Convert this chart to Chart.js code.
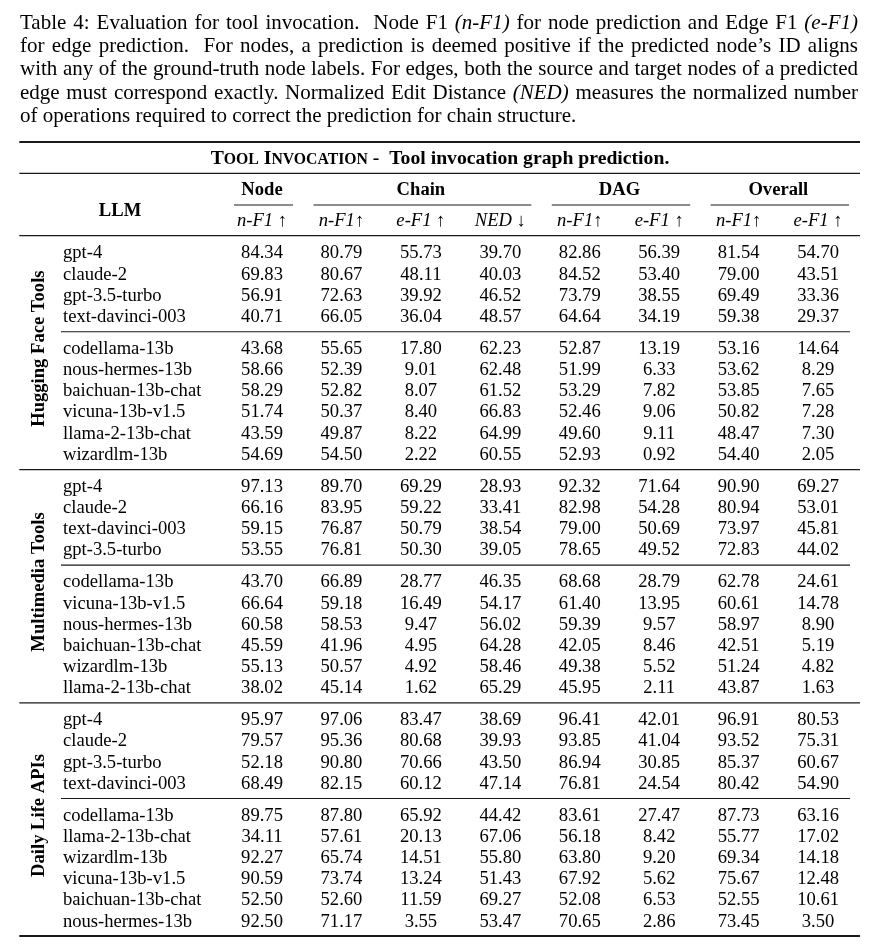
<!DOCTYPE html>
<html><head><meta charset="utf-8">
<script src="https://cdn.jsdelivr.net/npm/chart.js@4/dist/chart.umd.min.js"></script>
<style>
html,body{margin:0;padding:0;background:#fff;}
body{width:875px;height:947px;position:relative;overflow:hidden;}
#wrap{position:absolute;left:0;top:0;width:875px;height:947px;}
#cap{position:absolute;left:20px;top:10.5px;width:838px;font-family:"Liberation Serif","Times New Roman",serif;font-size:21px;line-height:23.4px;color:#000;z-index:2;}
#cap div{text-align:justify;text-align-last:justify;white-space:nowrap;word-spacing:-1.5px;}
#cap div.last{text-align:left;text-align-last:left;word-spacing:0;}
#cap i{font-style:italic;}
</style></head>
<body>
<div id="wrap"><canvas id="c"></canvas></div>
<div id="cap">
<div>Table 4: Evaluation for tool invocation. &nbsp;Node F1 <i>(n-F1)</i> for node prediction and Edge F1 <i>(e-F1)</i></div>
<div>for edge prediction. &nbsp;For nodes, a prediction is deemed positive if the predicted node’s ID aligns</div>
<div>with any of the ground-truth node labels. For edges, both the source and target nodes of a predicted</div>
<div>edge must correspond exactly. Normalized Edit Distance <i>(NED)</i> measures the normalized number</div>
<div class="last">of operations required to correct the prediction for chain structure.</div>
</div>
<script>
// ---------- DATA ----------
const groupNames = ["Hugging Face Tools", "Multimedia Tools", "Daily Life APIs"];
const columnGroups = ["Node", "Chain", "DAG", "Overall"];
const columnLabels = ["n-F1 ↑", "n-F1↑", "e-F1 ↑", "NED ↓", "n-F1↑", "e-F1 ↑", "n-F1↑", "e-F1 ↑"];

const hfModels = ["gpt-4","claude-2","gpt-3.5-turbo","text-davinci-003","codellama-13b","nous-hermes-13b","baichuan-13b-chat","vicuna-13b-v1.5","llama-2-13b-chat","wizardlm-13b"];
const hfNodeN   = [84.34,69.83,56.91,40.71,43.68,58.66,58.29,51.74,43.59,54.69];
const hfChainN  = [80.79,80.67,72.63,66.05,55.65,52.39,52.82,50.37,49.87,54.50];
const hfChainE  = [55.73,48.11,39.92,36.04,17.80,9.01,8.07,8.40,8.22,2.22];
const hfChainNED= [39.70,40.03,46.52,48.57,62.23,62.48,61.52,66.83,64.99,60.55];
const hfDagN    = [82.86,84.52,73.79,64.64,52.87,51.99,53.29,52.46,49.60,52.93];
const hfDagE    = [56.39,53.40,38.55,34.19,13.19,6.33,7.82,9.06,9.11,0.92];
const hfAllN    = [81.54,79.00,69.49,59.38,53.16,53.62,53.85,50.82,48.47,54.40];
const hfAllE    = [54.70,43.51,33.36,29.37,14.64,8.29,7.65,7.28,7.30,2.05];

const mmModels = ["gpt-4","claude-2","text-davinci-003","gpt-3.5-turbo","codellama-13b","vicuna-13b-v1.5","nous-hermes-13b","baichuan-13b-chat","wizardlm-13b","llama-2-13b-chat"];
const mmNodeN   = [97.13,66.16,59.15,53.55,43.70,66.64,60.58,45.59,55.13,38.02];
const mmChainN  = [89.70,83.95,76.87,76.81,66.89,59.18,58.53,41.96,50.57,45.14];
const mmChainE  = [69.29,59.22,50.79,50.30,28.77,16.49,9.47,4.95,4.92,1.62];
const mmChainNED= [28.93,33.41,38.54,39.05,46.35,54.17,56.02,64.28,58.46,65.29];
const mmDagN    = [92.32,82.98,79.00,78.65,68.68,61.40,59.39,42.05,49.38,45.95];
const mmDagE    = [71.64,54.28,50.69,49.52,28.79,13.95,9.57,8.46,5.52,2.11];
const mmAllN    = [90.90,80.94,73.97,72.83,62.78,60.61,58.97,42.51,51.24,43.87];
const mmAllE    = [69.27,53.01,45.81,44.02,24.61,14.78,8.90,5.19,4.82,1.63];

const dlModels = ["gpt-4","claude-2","gpt-3.5-turbo","text-davinci-003","codellama-13b","llama-2-13b-chat","wizardlm-13b","vicuna-13b-v1.5","baichuan-13b-chat","nous-hermes-13b"];
const dlNodeN   = [95.97,79.57,52.18,68.49,89.75,34.11,92.27,90.59,52.50,92.50];
const dlChainN  = [97.06,95.36,90.80,82.15,87.80,57.61,65.74,73.74,52.60,71.17];
const dlChainE  = [83.47,80.68,70.66,60.12,65.92,20.13,14.51,13.24,11.59,3.55];
const dlChainNED= [38.69,39.93,43.50,47.14,44.42,67.06,55.80,51.43,69.27,53.47];
const dlDagN    = [96.41,93.85,86.94,76.81,83.61,56.18,63.80,67.92,52.08,70.65];
const dlDagE    = [42.01,41.04,30.85,24.54,27.47,8.42,9.20,5.62,6.53,2.86];
const dlAllN    = [96.91,93.52,85.37,80.42,87.73,55.77,69.34,75.67,52.55,73.45];
const dlAllE    = [80.53,75.31,60.67,54.90,63.16,17.02,14.18,12.48,10.61,3.50];

// ---------- TABLE BUILD ----------
const groupModels = [hfModels, mmModels, dlModels];
const groupCols = [
  [hfNodeN,hfChainN,hfChainE,hfChainNED,hfDagN,hfDagE,hfAllN,hfAllE],
  [mmNodeN,mmChainN,mmChainE,mmChainNED,mmDagN,mmDagE,mmAllN,mmAllE],
  [dlNodeN,dlChainN,dlChainE,dlChainNED,dlDagN,dlDagE,dlAllN,dlAllE]
];
// layout (row units)
const FIRST = 5.26, GAP = 0.52, EDGE = 0.79;
function rowY(g, k){ return FIRST + g*10 + k + (2*g + (k>=4?1:0))*GAP; }
const Y_MAX = rowY(2,9) + EDGE;
const NAME_X = -2.506, GLABEL_X = -2.745, LLM_X = -1.788;

const cellPoints = [], namePoints = [];
groupCols.forEach((cols,g)=>{
  groupModels[g].forEach((m,k)=>{
    namePoints.push({x:NAME_X, y:rowY(g,k), t:m});
    cols.forEach((arr,c)=>cellPoints.push({x:c, y:rowY(g,k), t:arr[k].toFixed(2)}));
  });
});

const FS = 18.6;
const SERIF = "'Liberation Serif','Times New Roman',serif";

const tablePlugin = {
  id:'tablePlugin',
  afterDatasetsDraw(chart){
    const ctx = chart.ctx, xs = chart.scales.x, ys = chart.scales.y;
    const ca = chart.chartArea;
    const X = v=>xs.getPixelForValue(v), Y = v=>ys.getPixelForValue(v);
    const BO = 0.338*FS;
    ctx.save();
    ctx.fillStyle = '#000';
    ctx.strokeStyle = '#1a1a1a';
    function hline(y, x1, x2, w){ ctx.lineWidth=w; ctx.beginPath(); ctx.moveTo(x1,y); ctx.lineTo(x2,y); ctx.stroke(); }
    // rules
    const L = ca.left - 0.7, R = ca.right;
    hline(Y(0)+1, L, R, 2);
    hline(Y(1.53), L, R, 1.3);
    hline(Y(4.48), L, R, 1.3);
    for(let g=0; g<3; g++){
      const sub = (rowY(g,3)+rowY(g,4))/2;
      hline(Y(sub), X(NAME_X)-2, X(7)+32, 1.1);
      if(g<2){ hline(Y((rowY(g,9)+rowY(g+1,0))/2), L, R, 1.3); }
    }
    hline(Y(Y_MAX)-1, L, R, 2);
    // cmidrules
    const cm = [[0,0],[1,3],[4,5],[6,7]];
    cm.forEach(([a,b])=>hline(Y(3.03), X(a)-28, X(b)+31, 1.1));

    // title with small caps
    ctx.textBaseline = 'alphabetic';
    const TFS = 19.7;
    const big = 'bold '+TFS+'px '+SERIF, small = 'bold '+(TFS*0.8)+'px '+SERIF;
    const parts = [["T",big],["OOL",small],[" I",big],["NVOCATION",small],[" -  Tool invocation graph prediction.",big]];
    let tw = 0; parts.forEach(p=>{ctx.font=p[1]; tw+=ctx.measureText(p[0]).width;});
    let tx = (ca.left+ca.right)/2 - tw/2; const ty = Y(0.79)+0.338*TFS;
    ctx.textAlign='left';
    parts.forEach(p=>{ctx.font=p[1]; ctx.fillText(p[0],tx,ty); tx+=ctx.measureText(p[0]).width;});

    // header row 1
    ctx.font = 'bold '+FS+'px '+SERIF; ctx.textAlign='center';
    const spans = [[0,0],[1,3],[4,5],[6,7]];
    columnGroups.forEach((n,i)=>{ ctx.fillText(n, (X(spans[i][0])+X(spans[i][1]))/2, Y(2.27)+BO); });
    ctx.fillText("LLM", X(LLM_X), Y(3.26)+BO);

    // header row 2: italic + upright arrows
    columnLabels.forEach((lab,c)=>{
      const m = lab.match(/^(.*?)(\s?)([↑↓])$/);
      const it = 'italic '+FS+'px '+SERIF, up = FS+'px '+SERIF;
      const seg = [[m[1]+m[2], it],[m[3], up]];
      let w=0; seg.forEach(s=>{ctx.font=s[1]; w+=ctx.measureText(s[0]).width;});
      let x = X(c) - w/2; ctx.textAlign='left';
      seg.forEach(s=>{ctx.font=s[1]; ctx.fillText(s[0], x, Y(3.74)+BO); x+=ctx.measureText(s[0]).width;});
    });

    // cells
    ctx.font = FS+'px '+SERIF;
    ctx.textAlign='center';
    chart.getDatasetMeta(0).data.forEach((el,i)=>ctx.fillText(cellPoints[i].t, el.x, el.y+BO));
    ctx.textAlign='left';
    chart.getDatasetMeta(1).data.forEach((el,i)=>ctx.fillText(namePoints[i].t, el.x, el.y+BO));

    // group labels rotated
    ctx.font = 'bold '+FS+'px '+SERIF; ctx.textAlign='center';
    groupNames.forEach((n,g)=>{
      const cy = Y((rowY(g,0)+rowY(g,9))/2 - 0.2);
      ctx.save(); ctx.translate(X(GLABEL_X), cy); ctx.rotate(-Math.PI/2);
      ctx.fillText(n, 0, 0); ctx.restore();
    });
    ctx.restore();
  }
};

new Chart(document.getElementById('c'), {
  type:'scatter',
  data:{datasets:[
    {data:cellPoints, pointRadius:0, pointHoverRadius:0},
    {data:namePoints, pointRadius:0, pointHoverRadius:0}
  ]},
  options:{
    responsive:true, maintainAspectRatio:false, animation:false, events:[],
    layout:{padding:{left:20,right:15,top:141,bottom:10}},
    plugins:{legend:{display:false}, tooltip:{enabled:false}},
    scales:{
      x:{type:'linear', display:false, min:-3.047, max:7.528},
      y:{type:'linear', display:false, reverse:true, min:0, max:Y_MAX}
    }
  },
  plugins:[tablePlugin]
});
</script>
</body></html>
